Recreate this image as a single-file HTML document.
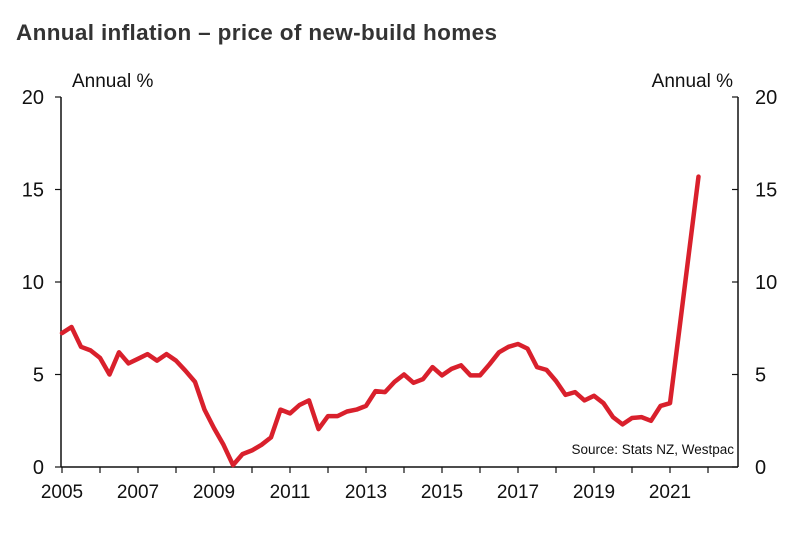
<!DOCTYPE html>
<html><head><meta charset="utf-8"><style>
body{margin:0;background:#fff;}
svg text{font-family:"Liberation Sans",sans-serif;fill:#111;}
</style></head><body>
<svg width="794" height="529" viewBox="0 0 794 529">
<text x="16" y="40" font-size="22.5" font-weight="bold" letter-spacing="0.35" style="fill:#333">Annual inflation – price of new-build homes</text>
<text x="72" y="87" font-size="19">Annual %</text>
<text x="733" y="87" font-size="19" text-anchor="end">Annual %</text>
<text x="734" y="454" font-size="13.5" text-anchor="end">Source: Stats NZ, Westpac</text>
<g id="axes"></g>
<path id="line" fill="none" stroke="#d9202c" stroke-width="4.5" stroke-linejoin="round" stroke-linecap="round"/>
</svg>
<script>
const startYear = 2005;
const values = [7.24,7.57,6.5,6.3,5.9,5.0,6.2,5.6,5.85,6.1,5.75,6.1,5.75,5.2,4.6,3.1,2.1,1.2,0.1,0.7,0.9,1.2,1.6,3.1,2.9,3.35,3.6,2.05,2.75,2.75,3.0,3.1,3.3,4.1,4.05,4.6,5.0,4.55,4.75,5.4,4.95,5.3,5.5,4.95,4.95,5.55,6.2,6.5,6.65,6.4,5.4,5.25,4.65,3.9,4.05,3.6,3.85,3.45,2.7,2.3,2.65,2.7,2.5,3.3,3.45,7.5,11.6,15.7];
const yTicks = [0,5,10,15,20];
const xLabels = [2005,2007,2009,2011,2013,2015,2017,2019,2021];
const L=61,R=738,T=97,B=467;
const xs = y => 62 + (y - startYear) * 38;
const ys = v => B - v * (B - T) / 20;
const ns='http://www.w3.org/2000/svg';
const g=document.getElementById('axes');
function mk(tag,attrs){const e=document.createElementNS(ns,tag);for(const k in attrs)e.setAttribute(k,attrs[k]);g.appendChild(e);return e;}
let a=mk('line',{x1:L,y1:T,x2:L,y2:B,stroke:'#111','stroke-width':1.5});


a=mk('line',{x1:R,y1:T,x2:R,y2:B,stroke:'#111','stroke-width':1.5});


a=mk('line',{x1:L,y1:B,x2:R,y2:B,stroke:'#111','stroke-width':1.5});


yTicks.forEach(v=>{
  const y=ys(v);
  mk('line',{x1:L-6,y1:y,x2:L,y2:y,stroke:'#111','stroke-width':1.2});
  mk('line',{x1:R-6,y1:y,x2:R,y2:y,stroke:'#111','stroke-width':1.2});
  let t=mk('text',{x:44,y:y+7,'font-size':20,'text-anchor':'end'});t.textContent=v;
  
  
  t=mk('text',{x:755,y:y+7,'font-size':20});t.textContent=v;
  
  
});
for(let yr=startYear;yr<=2023;yr++){const x=xs(yr);if(x>R+1)break;mk('line',{x1:x,y1:B,x2:x,y2:B+6,stroke:'#111','stroke-width':1.2});}
xLabels.forEach(yr=>{
  const t=mk('text',{x:xs(yr),y:B+31,'font-size':19,'text-anchor':'middle'});t.textContent=yr;
  
  
});
document.getElementById('line').setAttribute('d',values.map((v,i)=>(i?'L':'M')+xs(startYear+i/4).toFixed(1)+','+ys(v).toFixed(1)).join(''));
</script>
</body></html>
